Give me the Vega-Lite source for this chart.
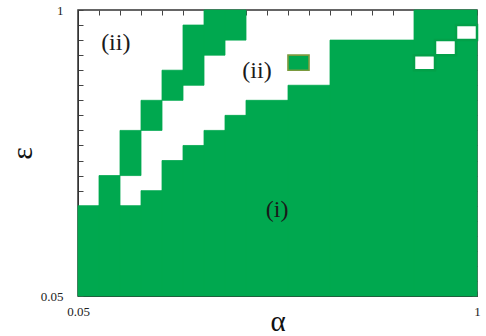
{
  "$schema": "https://vega.github.io/schema/vega-lite/v6.json",
  "width": 399,
  "height": 286,
  "autosize": "none",
  "padding": {"left": 78, "top": 10, "right": 9, "bottom": 40},
  "background": "white",
  "config": {
    "view": {"stroke": "#333333", "strokeWidth": 1.5},
    "axis": {"grid": false, "tickSize": -5, "tickWidth": 1, "tickColor": "#444444", "domainColor": "#333333", "labelFont": "Liberation Serif", "labelFontSize": 13, "labelColor": "#222222", "titleFont": "Liberation Serif", "titleFontWeight": "normal", "titleColor": "#111111"}
  },
  "datasets": {
    "cells": [
      {"kind": "fill", "a0": 0.05, "a1": 0.058539, "e0": 0.05, "e1": 0.128773},
      {"kind": "fill", "a0": 0.058539, "a1": 0.068537, "e0": 0.05, "e1": 0.176513},
      {"kind": "fill", "a0": 0.068537, "a1": 0.080242, "e0": 0.05, "e1": 0.128773},
      {"kind": "fill", "a0": 0.080242, "a1": 0.093945, "e0": 0.05, "e1": 0.150765},
      {"kind": "fill", "a0": 0.093945, "a1": 0.109989, "e0": 0.05, "e1": 0.206658},
      {"kind": "fill", "a0": 0.109989, "a1": 0.128773, "e0": 0.05, "e1": 0.241952},
      {"kind": "fill", "a0": 0.128773, "a1": 0.150765, "e0": 0.05, "e1": 0.283273},
      {"kind": "fill", "a0": 0.150765, "a1": 0.176513, "e0": 0.05, "e1": 0.331651},
      {"kind": "fill", "a0": 0.176513, "a1": 0.241952, "e0": 0.05, "e1": 0.388291},
      {"kind": "fill", "a0": 0.241952, "a1": 0.331651, "e0": 0.05, "e1": 0.454604},
      {"kind": "fill", "a0": 0.331651, "a1": 0.623139, "e0": 0.05, "e1": 0.72956},
      {"kind": "fill", "a0": 0.623139, "a1": 1, "e0": 0.05, "e1": 1},
      {"kind": "fill", "a0": 0.068537, "a1": 0.080242, "e0": 0.176513, "e1": 0.283273},
      {"kind": "fill", "a0": 0.080242, "a1": 0.093945, "e0": 0.283273, "e1": 0.388291},
      {"kind": "fill", "a0": 0.093945, "a1": 0.109989, "e0": 0.388291, "e1": 0.532242},
      {"kind": "fill", "a0": 0.109989, "a1": 0.128773, "e0": 0.454604, "e1": 0.854155},
      {"kind": "fill", "a0": 0.128773, "a1": 0.150765, "e0": 0.623139, "e1": 1},
      {"kind": "fill", "a0": 0.150765, "a1": 0.176513, "e0": 0.72956, "e1": 1},
      {"kind": "island", "a0": 0.241952, "a1": 0.283273, "e0": 0.532242, "e1": 0.623139},
      {"kind": "hole", "a0": 0.623139, "a1": 0.72956, "e0": 0.532242, "e1": 0.623139},
      {"kind": "hole", "a0": 0.72956, "a1": 0.854155, "e0": 0.623139, "e1": 0.72956},
      {"kind": "hole", "a0": 0.854155, "a1": 1, "e0": 0.72956, "e1": 0.854155}
    ],
    "labels": [
      {"label": "(ii)", "a": 0.0664, "e": 0.707},
      {"label": "(ii)", "a": 0.1917, "e": 0.528},
      {"label": "(i)", "a": 0.2229, "e": 0.123}
    ]
  },
  "resolve": {"axis": {"x": "independent", "y": "independent"}},
  "layer": [
    {
      "data": {"name": "cells"},
      "mark": {"type": "rect"},
      "encoding": {
        "x": {"field": "a0", "type": "quantitative", "scale": {"type": "log", "domain": [0.05, 1], "nice": false, "zero": false},
          "axis": {"orient": "bottom", "title": "α", "titleFontSize": 29, "titlePadding": -11, "labelPadding": 14,
            "values": [0.05, 0.058539, 0.068537, 0.080242, 0.093945, 0.109989, 0.128773, 0.150765, 0.176513, 0.206658, 0.241952, 0.283273, 0.331651, 0.388291, 0.454604, 0.532242, 0.623139, 0.72956, 0.854155, 1],
            "labelExpr": "datum.value < 0.051 ? '0.05' : (datum.value > 0.99 ? '1' : '')", "labelOverlap": false, "labelFlush": false}},
        "x2": {"field": "a1"},
        "y": {"field": "e0", "type": "quantitative", "scale": {"type": "log", "domain": [0.05, 1], "nice": false, "zero": false},
          "axis": {"orient": "left", "title": "ε", "titleFontSize": 30, "titleAngle": 270, "titleBaseline": "bottom", "titlePadding": 3, "labelPadding": 20,
            "values": [0.05, 0.058539, 0.068537, 0.080242, 0.093945, 0.109989, 0.128773, 0.150765, 0.176513, 0.206658, 0.241952, 0.283273, 0.331651, 0.388291, 0.454604, 0.532242, 0.623139, 0.72956, 0.854155, 1],
            "labelExpr": "datum.value < 0.051 ? '0.05' : (datum.value > 0.99 ? '1' : '')", "labelOverlap": false, "labelFlush": false}},
        "y2": {"field": "e1"},
        "fill": {"field": "kind", "type": "nominal", "scale": {"domain": ["fill", "island", "hole"], "range": ["#00a84f", "#00a84f", "#ffffff"]}, "legend": null},
        "stroke": {"field": "kind", "type": "nominal", "scale": {"domain": ["fill", "island", "hole"], "range": ["#00a84f", "#7a9a3e", "#03a049"]}, "legend": null},
        "strokeWidth": {"field": "kind", "type": "nominal", "scale": {"domain": ["fill", "island", "hole"], "range": [0.8, 2.5, 4]}, "legend": null}
      }
    },
    {
      "data": {"name": "labels"},
      "mark": {"type": "text", "font": "Liberation Serif", "fontSize": 24, "color": "#1a1a1a"},
      "encoding": {
        "x": {"field": "a", "type": "quantitative",
          "axis": {"orient": "top", "labels": false, "title": null, "domain": false,
            "values": [0.05, 0.058539, 0.068537, 0.080242, 0.093945, 0.109989, 0.128773, 0.150765, 0.176513, 0.206658, 0.241952, 0.283273, 0.331651, 0.388291, 0.454604, 0.532242, 0.623139, 0.72956, 0.854155, 1]}},
        "y": {"field": "e", "type": "quantitative",
          "axis": {"orient": "right", "labels": false, "title": null, "domain": false,
            "values": [0.05, 0.058539, 0.068537, 0.080242, 0.093945, 0.109989, 0.128773, 0.150765, 0.176513, 0.206658, 0.241952, 0.283273, 0.331651, 0.388291, 0.454604, 0.532242, 0.623139, 0.72956, 0.854155, 1]}},
        "text": {"field": "label"}
      }
    }
  ]
}
